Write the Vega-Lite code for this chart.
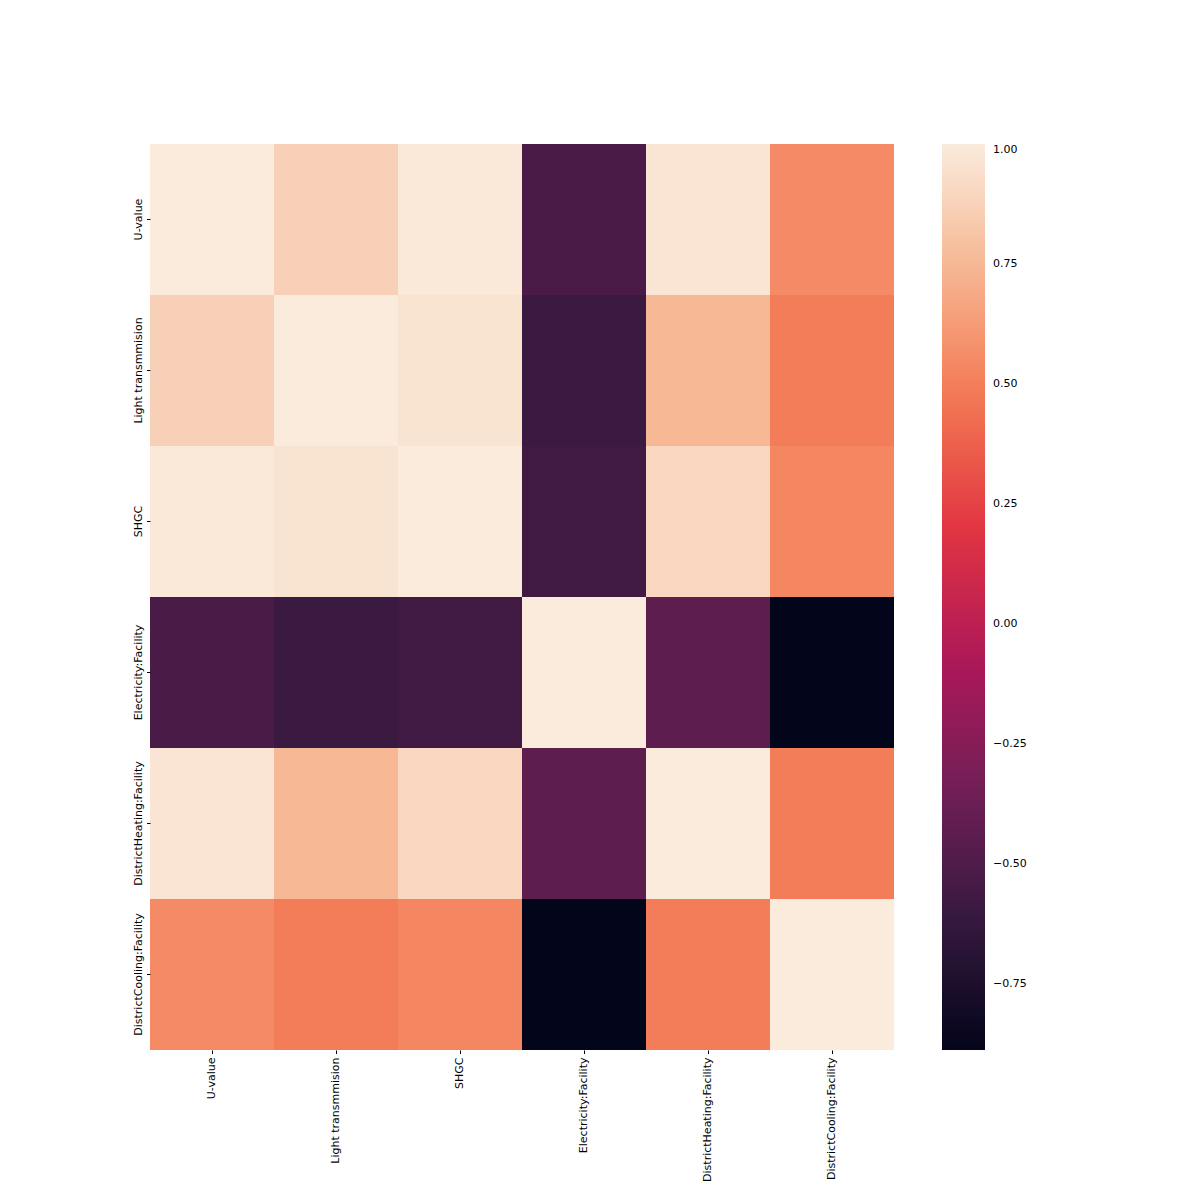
{
  "$schema": "https://vega.github.io/schema/vega-lite/v6.json",
  "width": 744,
  "height": 906,
  "autosize": {"type": "none"},
  "padding": {"left": 150, "top": 144, "right": 306, "bottom": 150},
  "background": "white",
  "config": {"view": {"stroke": null}, "font": "DejaVu Sans"},
  "data": {
    "values": [
      {"row": "U-value", "col": "U-value", "v": 1.0},
      {"row": "U-value", "col": "Light transmmision", "v": 0.87},
      {"row": "U-value", "col": "SHGC", "v": 0.985},
      {"row": "U-value", "col": "Electricity:Facility", "v": -0.52},
      {"row": "U-value", "col": "DistrictHeating:Facility", "v": 0.97},
      {"row": "U-value", "col": "DistrictCooling:Facility", "v": 0.55},
      {"row": "Light transmmision", "col": "U-value", "v": 0.87},
      {"row": "Light transmmision", "col": "Light transmmision", "v": 1.0},
      {"row": "Light transmmision", "col": "SHGC", "v": 0.96},
      {"row": "Light transmmision", "col": "Electricity:Facility", "v": -0.59},
      {"row": "Light transmmision", "col": "DistrictHeating:Facility", "v": 0.75},
      {"row": "Light transmmision", "col": "DistrictCooling:Facility", "v": 0.49},
      {"row": "SHGC", "col": "U-value", "v": 0.985},
      {"row": "SHGC", "col": "Light transmmision", "v": 0.96},
      {"row": "SHGC", "col": "SHGC", "v": 1.0},
      {"row": "SHGC", "col": "Electricity:Facility", "v": -0.565},
      {"row": "SHGC", "col": "DistrictHeating:Facility", "v": 0.9},
      {"row": "SHGC", "col": "DistrictCooling:Facility", "v": 0.53},
      {"row": "Electricity:Facility", "col": "U-value", "v": -0.52},
      {"row": "Electricity:Facility", "col": "Light transmmision", "v": -0.59},
      {"row": "Electricity:Facility", "col": "SHGC", "v": -0.565},
      {"row": "Electricity:Facility", "col": "Electricity:Facility", "v": 1.0},
      {"row": "Electricity:Facility", "col": "DistrictHeating:Facility", "v": -0.43},
      {"row": "Electricity:Facility", "col": "DistrictCooling:Facility", "v": -0.8875},
      {"row": "DistrictHeating:Facility", "col": "U-value", "v": 0.97},
      {"row": "DistrictHeating:Facility", "col": "Light transmmision", "v": 0.75},
      {"row": "DistrictHeating:Facility", "col": "SHGC", "v": 0.9},
      {"row": "DistrictHeating:Facility", "col": "Electricity:Facility", "v": -0.43},
      {"row": "DistrictHeating:Facility", "col": "DistrictHeating:Facility", "v": 1.0},
      {"row": "DistrictHeating:Facility", "col": "DistrictCooling:Facility", "v": 0.49},
      {"row": "DistrictCooling:Facility", "col": "U-value", "v": 0.55},
      {"row": "DistrictCooling:Facility", "col": "Light transmmision", "v": 0.49},
      {"row": "DistrictCooling:Facility", "col": "SHGC", "v": 0.53},
      {"row": "DistrictCooling:Facility", "col": "Electricity:Facility", "v": -0.8875},
      {"row": "DistrictCooling:Facility", "col": "DistrictHeating:Facility", "v": 0.49},
      {"row": "DistrictCooling:Facility", "col": "DistrictCooling:Facility", "v": 1.0}
    ]
  },
  "mark": {"type": "rect", "strokeWidth": 0},
  "encoding": {
    "x": {
      "field": "col", "type": "nominal",
      "sort": ["U-value", "Light transmmision", "SHGC", "Electricity:Facility", "DistrictHeating:Facility", "DistrictCooling:Facility"],
      "scale": {"paddingInner": 0, "paddingOuter": 0},
      "axis": {"title": null, "domain": false, "labelAngle": 270, "labelFontSize": 11, "labelColor": "#000", "tickColor": "#000", "tickSize": 3.5, "labelPadding": 3.5, "labelLimit": 300}
    },
    "y": {
      "field": "row", "type": "nominal",
      "sort": ["U-value", "Light transmmision", "SHGC", "Electricity:Facility", "DistrictHeating:Facility", "DistrictCooling:Facility"],
      "scale": {"paddingInner": 0, "paddingOuter": 0},
      "axis": {"title": null, "domain": false, "labelAngle": 270, "labelAlign": "center", "labelBaseline": "bottom", "labelFontSize": 11, "labelColor": "#000", "tickColor": "#000", "tickSize": 3.5, "labelPadding": 3.5, "labelLimit": 300}
    },
    "color": {
      "field": "v", "type": "quantitative",
      "scale": {
        "domain": [-0.8875, -0.61786, -0.34821, -0.07857, 0.19107, 0.46071, 0.73036, 1.0],
        "range": ["#03051a", "#35193e", "#701f57", "#ad1759", "#e13342", "#f37651", "#f6b48f", "#faebdd"],
        "interpolate": "rgb"
      },
      "legend": {
        "title": null,
        "orient": "right",
        "offset": 48,
        "padding": 0,
        "gradientLength": 906,
        "gradientThickness": 43,
        "gradientStrokeWidth": 0,
        "values": [-0.75, -0.5, -0.25, 0, 0.25, 0.5, 0.75, 1],
        "format": ".2f",
        "labelFontSize": 11,
        "labelColor": "#000",
        "labelOffset": 8,
        "labelBaseline": "middle",
        "labelOverlap": false,
        "labelFlush": false
      }
    }
  }
}
